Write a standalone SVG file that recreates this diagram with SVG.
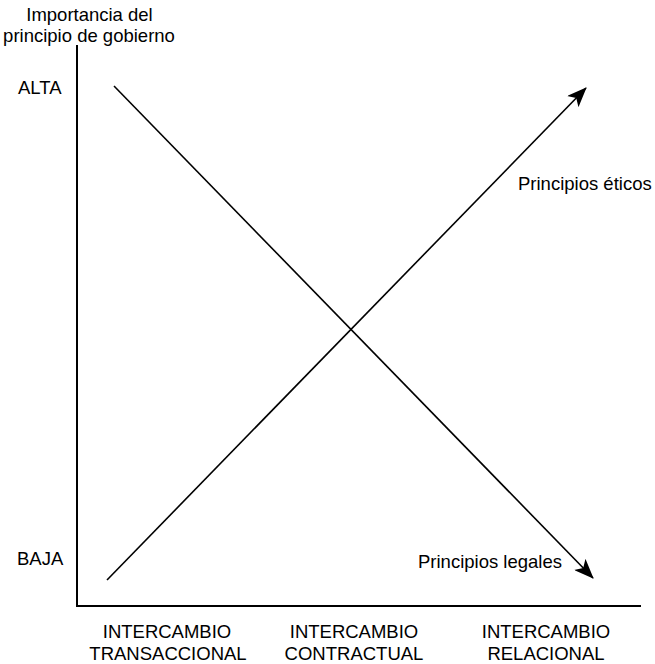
<svg xmlns="http://www.w3.org/2000/svg" width="655" height="664" viewBox="0 0 655 664">
<style>
text{font-family:"Liberation Sans",Arial,sans-serif;font-size:18.5px;fill:#000}
.ax{stroke:#000;stroke-width:2;fill:none}
.ln{stroke:#000;stroke-width:1.6;fill:none}
</style>
<defs>
<marker id="ah" viewBox="0 0 20 16" refX="19" refY="8" markerWidth="20" markerHeight="16" markerUnits="userSpaceOnUse" orient="auto">
<path d="M0,0 L20,8 L0,16 L5,8 Z" fill="#000"/>
</marker>
</defs>
<g id="axes">
<line class="ax" x1="77" y1="45" x2="77" y2="606"/>
<line class="ax" x1="76" y1="606" x2="641" y2="606"/>
</g>
<g id="y-title">
<text x="89.5" y="21" text-anchor="middle">Importancia del</text>
<text x="89" y="42" text-anchor="middle">principio de gobierno</text>
</g>
<g id="y-labels">
<text x="18" y="94">ALTA</text>
<text x="17" y="565">BAJA</text>
</g>
<g id="connectors">
<line class="ln" x1="114" y1="86" x2="593" y2="578" marker-end="url(#ah)"/>
<line class="ln" x1="107" y1="580" x2="586" y2="88" marker-end="url(#ah)"/>
</g>
<g id="line-labels">
<text x="518" y="190">Principios éticos</text>
<text x="418" y="568">Principios legales</text>
</g>
<g id="x-labels">
<text x="167" y="638" text-anchor="middle">INTERCAMBIO</text>
<text x="168" y="660" text-anchor="middle">TRANSACCIONAL</text>
<text x="354" y="638" text-anchor="middle">INTERCAMBIO</text>
<text x="354" y="660" text-anchor="middle">CONTRACTUAL</text>
<text x="546" y="638" text-anchor="middle">INTERCAMBIO</text>
<text x="546" y="660" text-anchor="middle">RELACIONAL</text>
</g>
</svg>
